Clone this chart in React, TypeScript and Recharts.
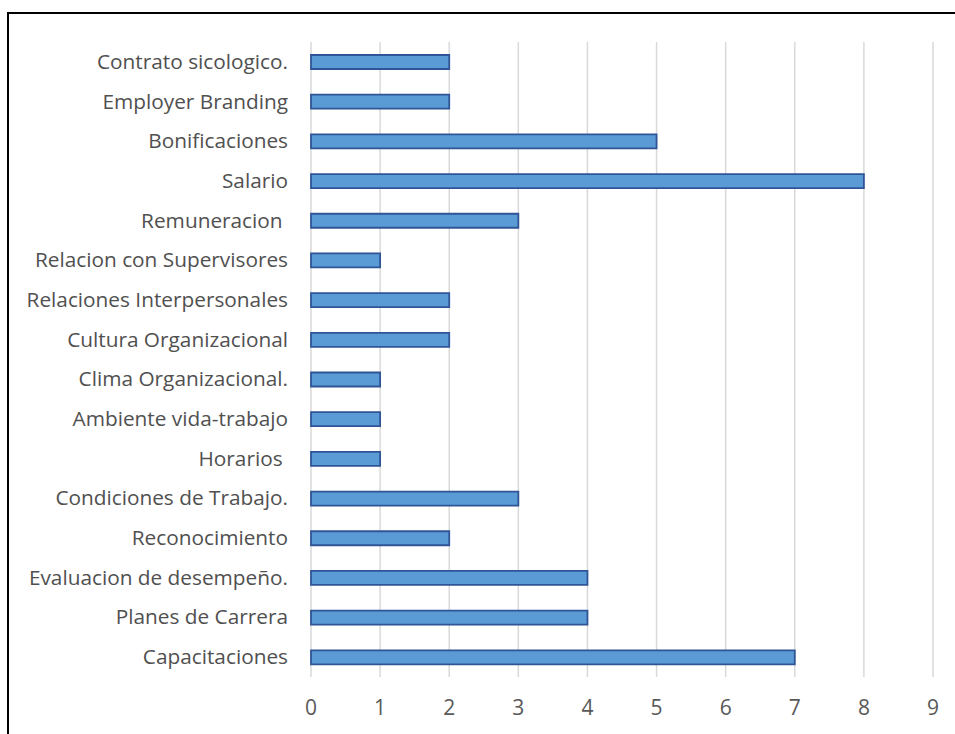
import { Bar, BarChart, CartesianGrid, XAxis, YAxis } from "recharts";

const categories = [
  "Contrato sicologico.",
  "Employer Branding",
  "Bonificaciones",
  "Salario",
  "Remuneracion ",
  "Relacion con Supervisores",
  "Relaciones Interpersonales",
  "Cultura Organizacional",
  "Clima Organizacional.",
  "Ambiente vida-trabajo",
  "Horarios ",
  "Condiciones de Trabajo.",
  "Reconocimiento",
  "Evaluacion de desempeño.",
  "Planes de Carrera",
  "Capacitaciones",
];

const counts = [2, 2, 5, 8, 3, 1, 2, 2, 1, 1, 1, 3, 2, 4, 4, 7];

const xTicks = [0, 1, 2, 3, 4, 5, 6, 7, 8, 9];

const data = categories.map((name, i) => ({ name, value: counts[i] }));

const FONT = "'Open Sans', sans-serif";

function CategoryTick({ x, y, payload }: any) {
  return (
    <text x={x} y={y} dy={7} textAnchor="end" fill="#505050" fontSize={20.8} fontFamily={FONT} style={{ whiteSpace: "pre" }}>
      {payload.value}
    </text>
  );
}

export default function App() {
  return (
    <div style={{ position: "absolute", left: 0, top: 0, width: 955, height: 734, overflow: "hidden", background: "#fff" }}>
      <div style={{ position: "absolute", left: 7, top: 12, width: 1000, height: 800, border: "2px solid #000", boxSizing: "border-box" }} />
      <div style={{ position: "absolute", left: 0, top: 0 }}>
        <BarChart width={955} height={734} data={data} layout="vertical" margin={{ top: 42, right: 22, bottom: 0, left: 0 }}>
          <CartesianGrid horizontal={false} stroke="#d9d9d9" strokeWidth={1.5} />
          <XAxis
            type="number"
            domain={[0, 9]}
            ticks={xTicks}
            axisLine={false}
            tickLine={false}
            height={57}
            tickSize={0}
            tickMargin={23}
            tick={{ fill: "#595959", fontSize: 21, fontFamily: FONT }}
          />
          <YAxis
            type="category"
            dataKey="name"
            width={311}
            axisLine={false}
            tickLine={false}
            tickSize={0}
            tickMargin={23}
            interval={0}
            tick={<CategoryTick />}
          />
          <Bar dataKey="value" barSize={14} fill="#5b9bd5" stroke="#2f5597" strokeWidth={1.8} isAnimationActive={false} />
        </BarChart>
      </div>
    </div>
  );
}
